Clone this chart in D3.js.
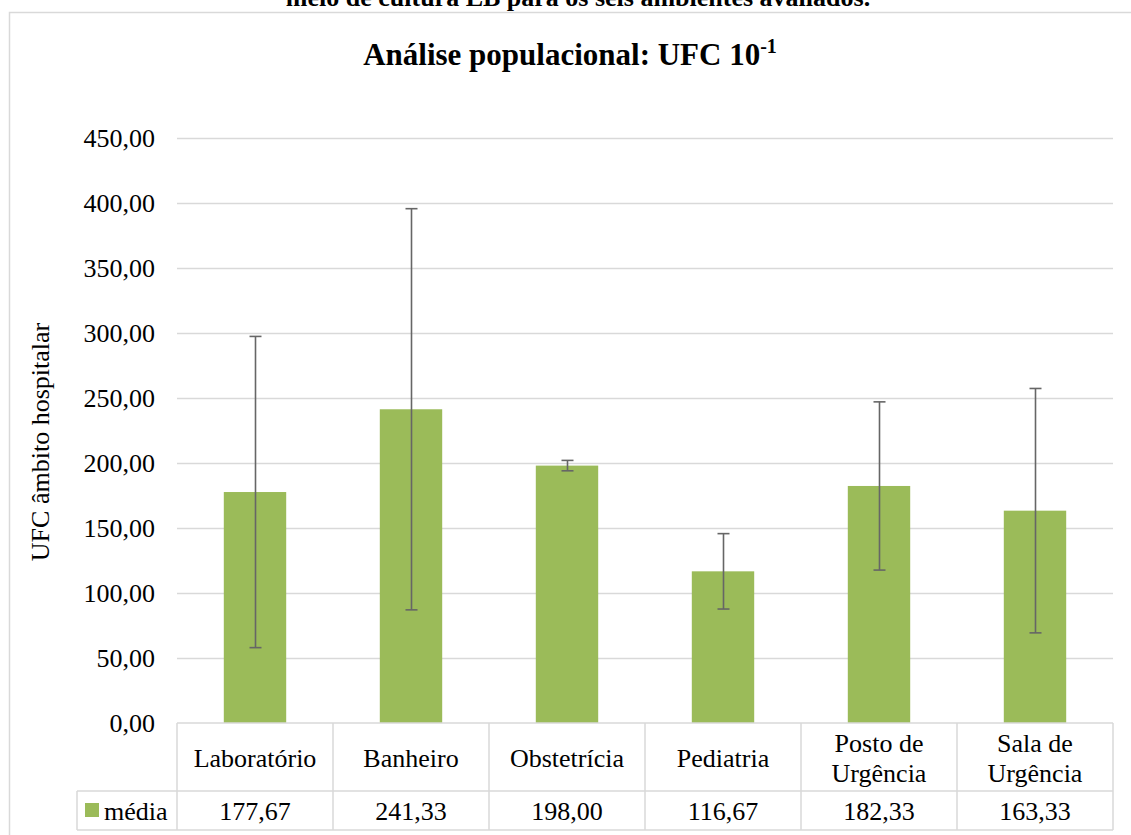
<!DOCTYPE html>
<html><head><meta charset="utf-8">
<script src="https://cdn.jsdelivr.net/npm/d3@7"></script>
<style>html,body{margin:0;padding:0;background:#fff;}svg{display:block;font-family:"Liberation Serif","Times New Roman",serif;}</style>
</head><body>
<svg id="c" width="1131" height="835"></svg>
<script>
const categories = ["Laboratório","Banheiro","Obstetrícia","Pediatria","Posto de Urgência","Sala de Urgência"];
const categoryLines = [["Laboratório"],["Banheiro"],["Obstetrícia"],["Pediatria"],["Posto de","Urgência"],["Sala de","Urgência"]];
const means = [177.67,241.33,198.00,116.67,182.33,163.33];
const errors = [119.7,154.3,4.0,29.0,64.7,94.0];
const yTicks = [0,50,100,150,200,250,300,350,400,450];
const seriesName = "média";
const title = "Análise populacional: UFC 10";
const titleSup = "-1";
const yLabel = "UFC âmbito hospitalar";
const caption = "meio de cultura LB para os seis ambientes avaliados.";

const loc = d3.formatLocale({decimal:",",thousands:".",grouping:[3],currency:["R$",""]});
const fmt = loc.format(".2f");

const svg = d3.select("#c");
const pLeft = 177, pRight = 1113, pTop = 138, pBottom = 723;
const x = d3.scaleBand().domain(categories).range([pLeft,pRight]).paddingInner(0).paddingOuter(0);
const y = d3.scaleLinear().domain([0,450]).range([pBottom,pTop]);
const grid = "#d9d9d9";

// caption (cut off at top, as in the reference)
svg.append("text").attr("x",578).attr("y",6).attr("text-anchor","middle")
  .attr("font-weight","bold").attr("font-size",26).text(caption);

// chart border
svg.append("rect").attr("x",9.5).attr("y",12.5).attr("width",1140).attr("height",840)
  .attr("fill","#fff").attr("stroke",grid).attr("stroke-width",1.5);

// title
const t = svg.append("text").attr("x",570).attr("y",65).attr("text-anchor","middle")
  .attr("font-weight","bold").attr("font-size",31);
t.append("tspan").text(title);
t.append("tspan").attr("font-size",20).attr("dy",-12).text(titleSup);

// gridlines
svg.append("g").selectAll("line").data(yTicks.filter(d=>d>0)).join("line")
  .attr("x1",pLeft).attr("x2",pRight).attr("y1",d=>y(d)+0.5).attr("y2",d=>y(d)+0.5)
  .attr("stroke",grid).attr("stroke-width",1.3);

// y axis labels
const yAxis = d3.axisLeft(y).tickValues(yTicks).tickFormat(fmt).tickSize(0).tickPadding(22);
const ga = svg.append("g").attr("transform",`translate(${pLeft},0)`).call(yAxis);
ga.select(".domain").remove();
ga.selectAll("text").attr("font-size",26).attr("fill","#000")
  .attr("font-family","'Liberation Serif','Times New Roman',serif").attr("dy","0.32em");

// y label
svg.append("text").attr("transform","translate(49,442) rotate(-90)").attr("text-anchor","middle")
  .attr("font-size",26).text(yLabel);

// bars
const bw = x.bandwidth()*0.4;
svg.append("g").selectAll("rect").data(means).join("rect")
  .attr("x",(d,i)=>x(categories[i])+x.bandwidth()/2-bw/2)
  .attr("width",bw)
  .attr("y",d=>y(d)).attr("height",d=>y(0)-y(d))
  .attr("fill","#9bbb59");

// error bars
const eg = svg.append("g").attr("stroke","#666").attr("stroke-width",1.6);
means.forEach((m,i)=>{
  const cx = Math.round(x(categories[i])+x.bandwidth()/2)+0.5;
  const y1 = y(m+errors[i]), y2 = y(m-errors[i]);
  eg.append("line").attr("x1",cx).attr("x2",cx).attr("y1",y1).attr("y2",y2);
  eg.append("line").attr("x1",cx-6).attr("x2",cx+6).attr("y1",y1).attr("y2",y1);
  eg.append("line").attr("x1",cx-6).attr("x2",cx+6).attr("y1",y2).attr("y2",y2);
});

// data table
const rowMid = 791, rowBot = 830, legLeft = 77;
const tg = svg.append("g").attr("stroke",grid).attr("stroke-width",1.5);
tg.append("line").attr("x1",pLeft).attr("x2",pRight).attr("y1",pBottom).attr("y2",pBottom);
tg.append("line").attr("x1",legLeft).attr("x2",pRight).attr("y1",rowMid).attr("y2",rowMid);
tg.append("line").attr("x1",legLeft).attr("x2",pRight).attr("y1",rowBot).attr("y2",rowBot);
tg.append("line").attr("x1",legLeft).attr("x2",legLeft).attr("y1",rowMid).attr("y2",rowBot);
[...categories.map(c=>x(c)), pRight].forEach(xx=>{
  tg.append("line").attr("x1",xx).attr("x2",xx).attr("y1",pBottom).attr("y2",rowBot);
});

// category labels
categories.forEach((c,i)=>{
  const cx = x(c)+x.bandwidth()/2;
  const lines = categoryLines[i];
  const txt = svg.append("text").attr("text-anchor","middle").attr("font-size",26);
  if(lines.length===1){
    txt.append("tspan").attr("x",cx).attr("y",767).text(lines[0]);
  } else {
    txt.append("tspan").attr("x",cx).attr("y",752).text(lines[0]);
    txt.append("tspan").attr("x",cx).attr("y",782).text(lines[1]);
  }
  svg.append("text").attr("x",cx).attr("y",820).attr("text-anchor","middle")
    .attr("font-size",26).text(fmt(means[i]));
});

// legend key
svg.append("rect").attr("x",85).attr("y",803).attr("width",14).attr("height",14).attr("fill","#9bbb59");
svg.append("text").attr("x",104).attr("y",820).attr("font-size",26).text(seriesName);
</script>
</body></html>
